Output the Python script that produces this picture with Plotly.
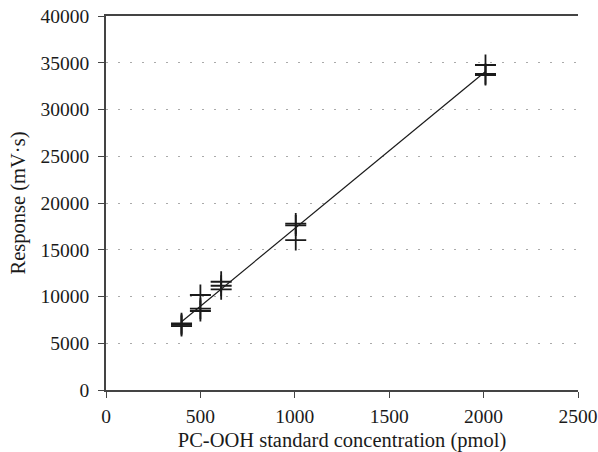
import numpy as np
import plotly.graph_objects as go

# Data (triplicate injections)
concentration = [400, 400, 400, 500, 500, 500, 610, 610, 610, 1005, 1005, 1005, 2010, 2010, 2010]
response = [7130, 6980, 6840, 10160, 8700, 8450, 11580, 11150, 10770, 17800, 17600, 16040, 34760, 33800, 33690]

x_ticks = [0, 500, 1000, 1500, 2000, 2500]
y_ticks = [0, 5000, 10000, 15000, 20000, 25000, 30000, 35000, 40000]

slope, intercept = np.polyfit(concentration, response, 1)
fit_x = [min(concentration), max(concentration)]
fit_y = [slope * v + intercept for v in fit_x]

font_family = "Liberation Serif"

fig = go.Figure()
fig.add_trace(go.Scatter(
    x=fit_x, y=fit_y, mode="lines",
    line=dict(color="#1a1a1a", width=1.2),
    showlegend=False, hoverinfo="skip",
))
fig.add_trace(go.Scatter(
    x=concentration, y=response, mode="markers",
    marker=dict(symbol="cross-thin", size=15, line=dict(color="#1a1a1a", width=1.8)),
    showlegend=False,
))

fig.update_layout(
    width=598, height=452,
    margin=dict(l=106, r=20, t=16, b=62, autoexpand=False),
    paper_bgcolor="white", plot_bgcolor="white",
    font=dict(family=font_family, size=19.5, color="#1a1a1a"),
    xaxis=dict(
        range=[0, 2500], tickvals=x_ticks, ticktext=[str(v) for v in x_ticks],
        showline=True, linecolor="#444", linewidth=1.5, mirror=True,
        ticks="outside", ticklen=6, tickcolor="#444", tickwidth=1.2,
        showgrid=False, zeroline=False, automargin=False,
        ticklabelstandoff=2,
        title=dict(text="PC-OOH standard concentration (pmol)", standoff=12, font=dict(size=20.5)),
        tickfont=dict(size=19.5),
    ),
    yaxis=dict(
        range=[0, 40000], tickvals=y_ticks, ticktext=[str(v) for v in y_ticks],
        showline=True, linecolor="#444", linewidth=1.5,
        ticks="outside", ticklen=6, tickcolor="#444", tickwidth=1.2,
        showgrid=True, gridcolor="#aaaaaa", gridwidth=1.2, griddash="2px,10px",
        zeroline=False, automargin=False,
        ticklabelstandoff=5,
        title=dict(text="Response (mV·s)", standoff=9, font=dict(size=20.5)),
        tickfont=dict(size=19.5),
    ),
)

fig.write_html(
    "out.html",
    config={"displayModeBar": False},
    post_script="document.body.style.margin='0';document.body.style.overflow='hidden';",
)
